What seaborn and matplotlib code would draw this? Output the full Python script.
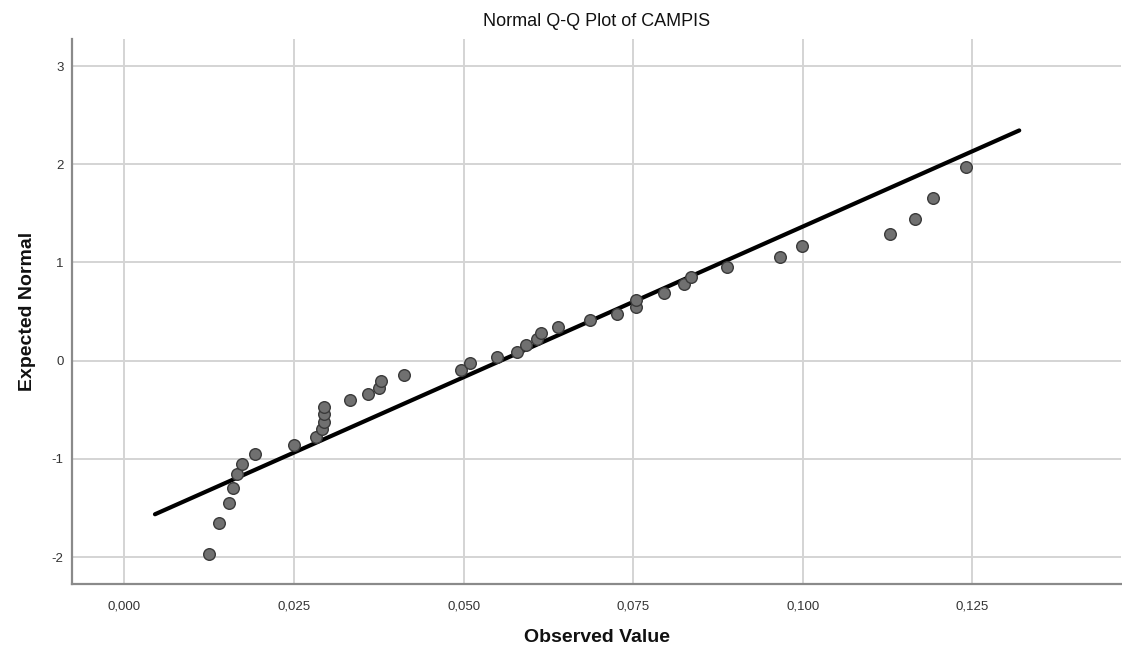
import matplotlib
matplotlib.use("Agg")
import matplotlib.pyplot as plt
import matplotlib.ticker as mticker
import seaborn as sns
import pandas as pd

# ---- data ----
observed = [0.01247, 0.01394, 0.01537, 0.01605, 0.01664, 0.01733, 0.01925, 0.0250,
            0.0282, 0.02913, 0.02938, 0.02938, 0.02947, 0.03326, 0.03595, 0.03757,
            0.03782, 0.04126, 0.04966, 0.0509, 0.05497, 0.05783, 0.0592, 0.06087,
            0.06148, 0.06387, 0.06863, 0.07257, 0.07537, 0.07537, 0.0795, 0.08249,
            0.08352, 0.08887, 0.09661, 0.09987, 0.1129, 0.1165, 0.1192, 0.1240]
expected = [-1.968, -1.653, -1.449, -1.296, -1.157, -1.049, -0.947, -0.855,
            -0.774, -0.699, -0.621, -0.546, -0.468, -0.404, -0.341, -0.281,
            -0.212, -0.150, -0.092, -0.026, 0.035, 0.092, 0.160, 0.218,
            0.279, 0.343, 0.414, 0.476, 0.544, 0.618, 0.692, 0.778,
            0.855, 0.951, 1.051, 1.163, 1.293, 1.446, 1.654, 1.969]
line_x = [0.00451, 0.1319]
line_y = [-1.564, 2.344]
x_ticks = [0.000, 0.025, 0.050, 0.075, 0.100, 0.125]
y_ticks = [-2, -1, 0, 1, 2, 3]

sns.set_theme(style="white")
plt.rcParams['font.family'] = ['Liberation Sans', 'DejaVu Sans']

fig = plt.figure(figsize=(11.22, 6.58), dpi=100)
ax = fig.add_axes([72 / 1122, 74 / 658, 1049 / 1122, 545 / 658])

pts = pd.DataFrame({"Observed Value": observed, "Expected Normal": expected})
ln = pd.DataFrame({"x": line_x, "y": line_y})

ax.set_xlim(-0.00772, 0.1469)
ax.set_ylim(-2.274, 3.275)
ax.set_xticks(x_ticks)
ax.set_yticks(y_ticks)
ax.grid(True, color="#d4d4d4", linewidth=1.4)
ax.set_axisbelow(True)

sns.lineplot(data=ln, x="x", y="y", ax=ax, color="black", linewidth=3.0, zorder=2)
sns.scatterplot(data=pts, x="Observed Value", y="Expected Normal", ax=ax,
                s=70, color="#707070", edgecolor="#3a3a3a", linewidth=1.0, zorder=3)

ax.xaxis.set_major_formatter(mticker.FuncFormatter(lambda v, p: f"{v:.3f}".replace(".", ",")))
ax.yaxis.set_major_formatter(mticker.FuncFormatter(lambda v, p: f"{int(round(v))}"))
ax.tick_params(axis="both", labelsize=9.5, colors="#333333", length=0, pad=12)
ax.tick_params(axis="y", pad=6)

for side in ["top", "right"]:
    ax.spines[side].set_visible(False)
for side in ["left", "bottom"]:
    ax.spines[side].set_color("#8a8a8a")
    ax.spines[side].set_linewidth(1.6)

ax.set_title("Normal Q-Q Plot of CAMPIS", fontsize=13, color="#111111", pad=9)
ax.set_xlabel("Observed Value", fontsize=14, fontweight="bold", color="#111111", labelpad=12)
ax.set_ylabel("Expected Normal", fontsize=14, fontweight="bold", color="#111111", labelpad=11)

fig.savefig("out.png", dpi=100, facecolor="white")
